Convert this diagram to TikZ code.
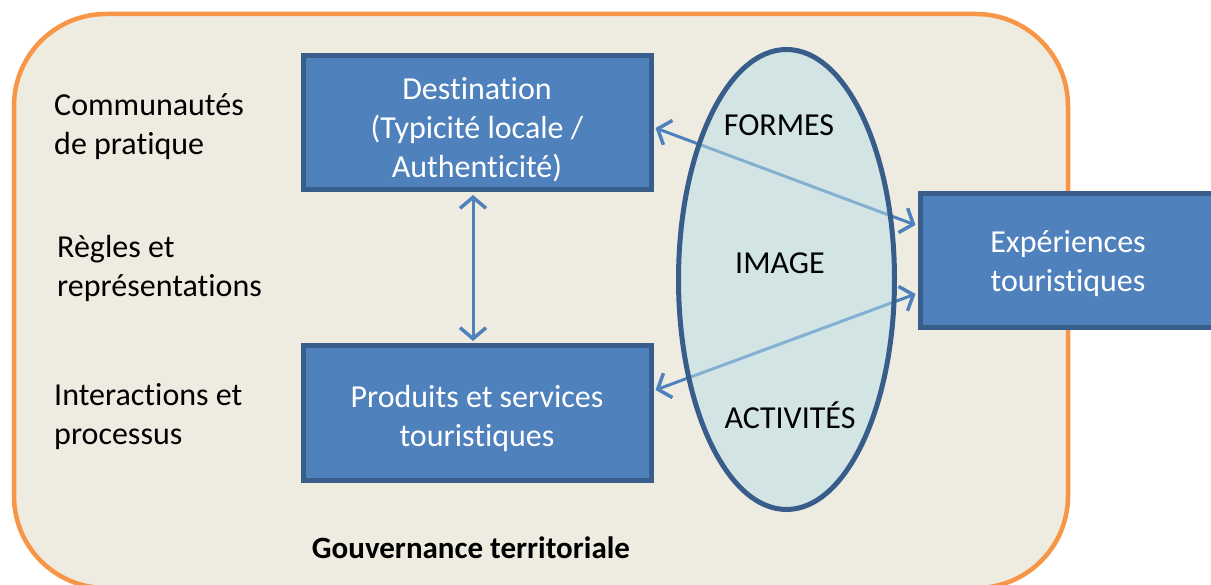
\documentclass[tikz,border=0pt]{standalone}
\usepackage{fontspec}
\setmainfont{Carlito}[Ligatures=NoCommon]
\usetikzlibrary{arrows.meta,shapes.geometric}
\definecolor{orng}{HTML}{F79646}
\definecolor{bgc}{HTML}{EEECE1}
\definecolor{boxfill}{HTML}{4F81BD}
\definecolor{boxline}{HTML}{385D8A}
\definecolor{ellfill}{HTML}{B7DEE8}
\definecolor{arrc}{HTML}{4F81BD}
\begin{document}
\begin{tikzpicture}[x=1pt,y=-1pt,
  txt/.style={font=\fontsize{32pt}{39pt}\selectfont,inner sep=0pt},
  bluebox/.style={draw=boxline,fill=boxfill,line width=5pt,minimum width=348pt,minimum height=134pt,inner sep=0pt},
  boxtext/.style={txt,text=white,align=center},
  sidelabel/.style={txt,align=left,anchor=west,text=black},
  elllabel/.style={txt,text=black},
  arr/.style={draw=arrc,line width=3pt,{Straight Barb[length=11pt,width=26pt,line width=3.5pt]}-{Straight Barb[length=11pt,width=26pt,line width=3.5pt]}}
]
\useasboundingbox (0,0) rectangle (1211,585);
\clip (0,0) rectangle (1211,585);
\fill[white] (0,0) rectangle (1211,585);
\draw[draw=orng,fill=bgc,line width=4.5pt,rounded corners=92pt] (14,14) rectangle (1068,588);

\node[bluebox] (dest) at (477,123) {};
\node[boxtext] (destt) at (477,130) {Destination\\(Typicité locale /\\Authenticité)};
\node[bluebox] (prod) at (477,413) {};
\node[boxtext] (prodt) at (477,418) {Produits et services\\touristiques};
\node[bluebox,minimum width=296pt] (exp) at (1068.5,260.5) {};
\node[boxtext] (expt) at (1068,264) {Expériences\\touristiques};

\node[sidelabel] (comm) at (54,127) {Communautés\\de pratique};
\node[sidelabel] (regl) at (57,268) {Règles et\\représentations};
\node[sidelabel] (inter) at (54,417) {Interactions et\\processus};
\node[txt,font=\fontsize{31pt}{38pt}\selectfont\bfseries] (gouv) at (471,548) {Gouvernance territoriale};

\path[arr] ([shift={(2,5)}]dest.east) -- ([shift={(-2.5,-35.5)}]exp.west);
\path[arr] ([shift={(2,-23)}]prod.east) -- ([shift={(-2.5,33.5)}]exp.west);
\path[arr] ([shift={(-4,2.5)}]dest.south) -- ([shift={(-4,-2.5)}]prod.north);

\node[ellipse,draw=boxline,line width=5pt,fill=ellfill,fill opacity=0.5,draw opacity=1,minimum width=216pt,minimum height=460pt,inner sep=0pt] (ell) at (786.5,279.5) {};
\node[elllabel] (formes) at (779,125) {FORMES};
\node[elllabel] (image) at (780,263) {IMAGE};
\node[elllabel] (activ) at (790,415) {ACTIVITÉS};
\end{tikzpicture}
\end{document}
